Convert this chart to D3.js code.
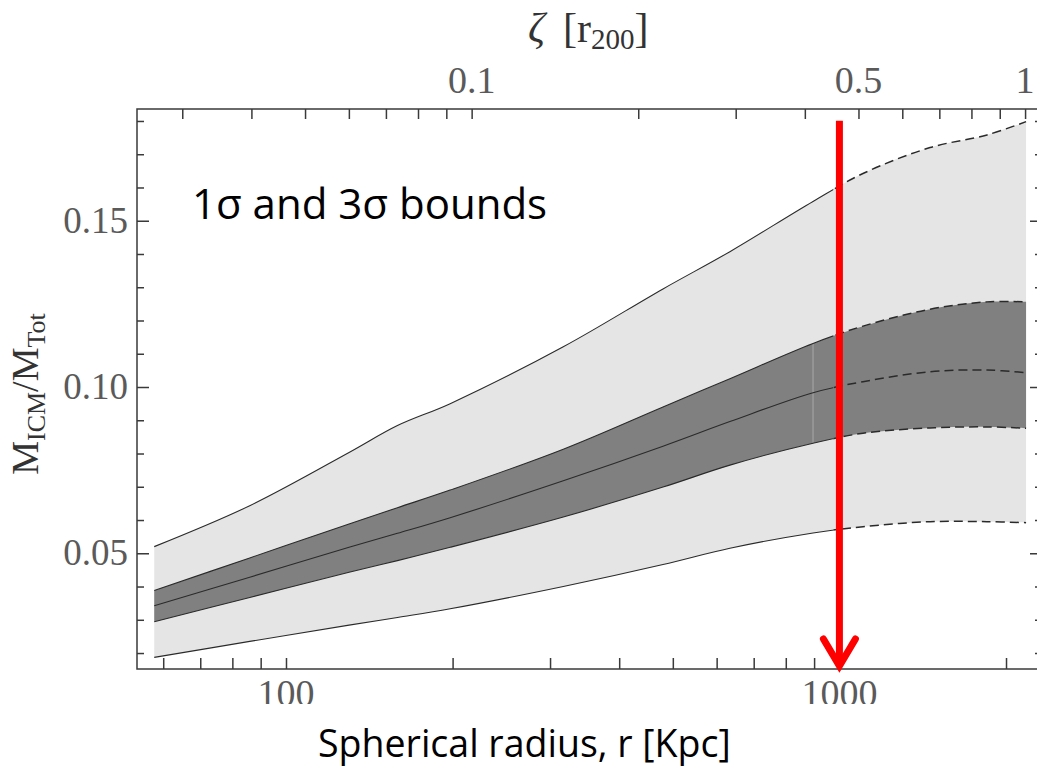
<!DOCTYPE html>
<html>
<head>
<meta charset="utf-8">
<script src="https://cdn.jsdelivr.net/npm/d3@7"></script>
<style>
  body { margin: 0; background: #fff; }
  svg { display: block; }
</style>
</head>
<body>
<svg id="chart" width="1037" height="768"></svg>
<script>
// radius in kpc, fractions
var radius   = [57.8, 86, 130, 159, 198, 317, 480, 634, 896, 1103, 1458, 1848, 2174];
var sig3Up   = [0.0520, 0.0643, 0.0803, 0.0884, 0.0950, 0.1121, 0.1295, 0.1407, 0.1558, 0.1642, 0.1720, 0.1758, 0.1798];
var sig1Up   = [0.0388, 0.0486, 0.0588, 0.0637, 0.0690, 0.0813, 0.0940, 0.1025, 0.1131, 0.1183, 0.1234, 0.1256, 0.1256];
var median   = [0.0342, 0.0428, 0.0518, 0.0560, 0.0607, 0.0718, 0.0822, 0.0896, 0.0983, 0.1016, 0.1046, 0.1051, 0.1043];
var sig1Low  = [0.0294, 0.0367, 0.0443, 0.0478, 0.0518, 0.0609, 0.0699, 0.0765, 0.0831, 0.0861, 0.0877, 0.0880, 0.0876];
var sig3Low  = [0.0187, 0.0235, 0.0284, 0.0307, 0.0333, 0.0400, 0.0466, 0.0515, 0.0561, 0.0580, 0.0595, 0.0595, 0.0592];

var r200 = 2165;          // kpc, zeta = r / r200
var rMark = 1000;         // red arrow
var rDash = 975;          // lines become dashed beyond this radius
var rSeam = 896;

var xTicks = [60, 70, 80, 90, 100, 200, 300, 400, 500, 600, 700, 800, 900, 1000, 2000];
var xLabels = [100, 1000];
var zTicks = [0.03, 0.04, 0.05, 0.06, 0.07, 0.08, 0.09, 0.1, 0.2, 0.3, 0.4, 0.5, 0.6, 0.7, 0.8, 0.9, 1];
var zLabels = [0.1, 0.5, 1];
var yMajor = [0.05, 0.10, 0.15];
var yMinor = [0.02, 0.03, 0.04, 0.06, 0.07, 0.08, 0.09, 0.11, 0.12, 0.13, 0.14, 0.16, 0.17, 0.18];

var pL = 137, pR = 1042, pT = 109, pB = 669;

var svg = d3.select("#chart");

var x = d3.scaleLog().domain([53.8, 2323]).range([pL, pR]);
var z = d3.scaleLog().domain([53.8 / r200, 2323 / r200]).range([pL, pR]);
var y = d3.scaleLinear().domain([0.0152, 0.1836]).range([pB, pT]);

var rows = radius.map(function(r, i) {
  return {r: r, u3: sig3Up[i], u1: sig1Up[i], m: median[i], l1: sig1Low[i], l3: sig3Low[i]};
});

var curve = d3.curveCatmullRom.alpha(0.5);

var defs = svg.append("defs");
defs.append("clipPath").attr("id", "solidPart")
  .append("rect").attr("x", 0).attr("y", 0).attr("width", x(rDash)).attr("height", 768);
defs.append("clipPath").attr("id", "dashPart")
  .append("rect").attr("x", x(rDash)).attr("y", 0).attr("width", 1037).attr("height", 768);
defs.append("clipPath").attr("id", "labelClip")
  .append("rect").attr("x", 0).attr("y", 0).attr("width", 1037).attr("height", 704);

// bands
var area = function(lo, hi) {
  return d3.area().curve(curve)
    .x(function(d) { return x(d.r); })
    .y0(function(d) { return y(d[lo]); })
    .y1(function(d) { return y(d[hi]); });
};
svg.append("path").datum(rows).attr("d", area("l3", "u3")).attr("fill", "#e5e5e5");
svg.append("path").datum(rows).attr("d", area("l1", "u1")).attr("fill", "#808080");

// seam in the dark band
var seam = rows.filter(function(d) { return d.r === rSeam; })[0];
svg.append("line")
  .attr("x1", x(seam.r)).attr("x2", x(seam.r))
  .attr("y1", y(seam.u1)).attr("y2", y(seam.l1))
  .attr("stroke", "#a8a8a8").attr("stroke-width", 1);

// boundary lines
["u3", "u1", "m", "l1", "l3"].forEach(function(k) {
  var line = d3.line().curve(curve)
    .x(function(d) { return x(d.r); })
    .y(function(d) { return y(d[k]); });
  svg.append("path").datum(rows).attr("d", line)
    .attr("fill", "none").attr("stroke", "#2a2a2a").attr("stroke-width", 1.1)
    .attr("clip-path", "url(#solidPart)");
  svg.append("path").datum(rows).attr("d", line)
    .attr("fill", "none").attr("stroke", "#2a2a2a").attr("stroke-width", 1.5)
    .attr("stroke-dasharray", "9,5")
    .attr("clip-path", "url(#dashPart)");
});

// frame + axes
var axisColor = "#3a3a3a";
var serif = "'Liberation Serif', 'DejaVu Serif', serif";

svg.append("rect")
  .attr("x", pL).attr("y", pT).attr("width", pR - pL).attr("height", pB - pT)
  .attr("fill", "none").attr("stroke", axisColor).attr("stroke-width", 1.5);

var gBottom = svg.append("g").attr("transform", "translate(0," + pB + ")")
  .call(d3.axisTop(x).tickValues(xTicks).tickSize(11).tickFormat(""));
var gTop = svg.append("g").attr("transform", "translate(0," + pT + ")")
  .call(d3.axisBottom(z).tickValues(zTicks).tickSize(10).tickFormat(""));
var gLeftMaj = svg.append("g").attr("transform", "translate(" + pL + ",0)")
  .call(d3.axisRight(y).tickValues(yMajor).tickSize(12).tickFormat(""));
var gLeftMin = svg.append("g").attr("transform", "translate(" + pL + ",0)")
  .call(d3.axisRight(y).tickValues(yMinor).tickSize(7).tickFormat(""));
var gRightMaj = svg.append("g").attr("transform", "translate(" + pR + ",0)")
  .call(d3.axisLeft(y).tickValues(yMajor).tickSize(12).tickFormat(""));
var gRightMin = svg.append("g").attr("transform", "translate(" + pR + ",0)")
  .call(d3.axisLeft(y).tickValues(yMinor).tickSize(7).tickFormat(""));

[gBottom, gTop, gLeftMaj, gLeftMin, gRightMaj, gRightMin].forEach(function(g) {
  g.select(".domain").remove();
  g.selectAll(".tick line").attr("stroke", axisColor).attr("stroke-width", 1.5);
});

// tick labels
svg.append("g").attr("clip-path", "url(#labelClip)")
  .selectAll("text").data(xLabels).enter().append("text")
  .attr("x", function(d) { return x(d); })
  .attr("y", pB + 37)
  .attr("text-anchor", "middle")
  .attr("font-family", serif).attr("font-size", 38).attr("fill", "#5a5a5a")
  .text(function(d) { return d; });

svg.append("g").selectAll("text").data(zLabels).enter().append("text")
  .attr("x", function(d) { return z(d); })
  .attr("y", pT - 16)
  .attr("text-anchor", "middle")
  .attr("font-family", serif).attr("font-size", 38).attr("fill", "#5a5a5a")
  .text(function(d) { return d; });

svg.append("g").selectAll("text").data(yMajor).enter().append("text")
  .attr("x", pL - 9)
  .attr("y", function(d) { return y(d) + 12; })
  .attr("text-anchor", "end")
  .attr("font-family", serif).attr("font-size", 37).attr("fill", "#5a5a5a")
  .text(function(d) { return d3.format(".2f")(d); });

// axis titles
var ttl = svg.append("text")
  .attr("x", 528).attr("y", 42)
  .attr("font-family", serif).attr("font-size", 42).attr("fill", "#333");
ttl.append("tspan").attr("font-style", "italic").text("ζ");
ttl.append("tspan").attr("dx", 18).text("[r");
ttl.append("tspan").attr("font-size", 29).attr("dy", 7).text("200");
ttl.append("tspan").attr("dy", -7).text("]");

var ylab = svg.append("text")
  .attr("transform", "translate(38,394) rotate(-90)")
  .attr("text-anchor", "middle")
  .attr("font-family", serif).attr("font-size", 38).attr("fill", "#333");
ylab.append("tspan").text("M");
ylab.append("tspan").attr("font-size", 26).attr("dy", 7).text("ICM");
ylab.append("tspan").attr("dy", -7).text("/M");
ylab.append("tspan").attr("font-size", 26).attr("dy", 7).text("Tot");

svg.append("text")
  .attr("x", 318).attr("y", 757)
  .attr("font-family", "'Open Sans', 'Liberation Sans', sans-serif").attr("font-size", 37.5)
  .attr("fill", "#000")
  .text("Spherical radius, r [Kpc]");

svg.append("text")
  .attr("x", 192).attr("y", 219)
  .attr("font-family", "'Open Sans', 'Liberation Sans', sans-serif").attr("font-size", 42)
  .attr("fill", "#000")
  .text("1σ and 3σ bounds");

// red arrow at r = 1000 kpc
var ax = x(rMark), aTop = y(0.1801), aTip = y(0.0155);
var red = svg.append("g").attr("stroke", "#ff0000").attr("stroke-width", 7).attr("fill", "none");
red.append("line").attr("x1", ax).attr("x2", ax).attr("y1", aTop).attr("y2", aTip - 3);
red.append("path")
  .attr("d", "M" + (ax - 16) + "," + (aTip - 29) + "L" + ax + "," + (aTip - 2) + "L" + (ax + 16) + "," + (aTip - 29))
  .attr("stroke-linecap", "round").attr("stroke-linejoin", "miter");
</script>
</body>
</html>
